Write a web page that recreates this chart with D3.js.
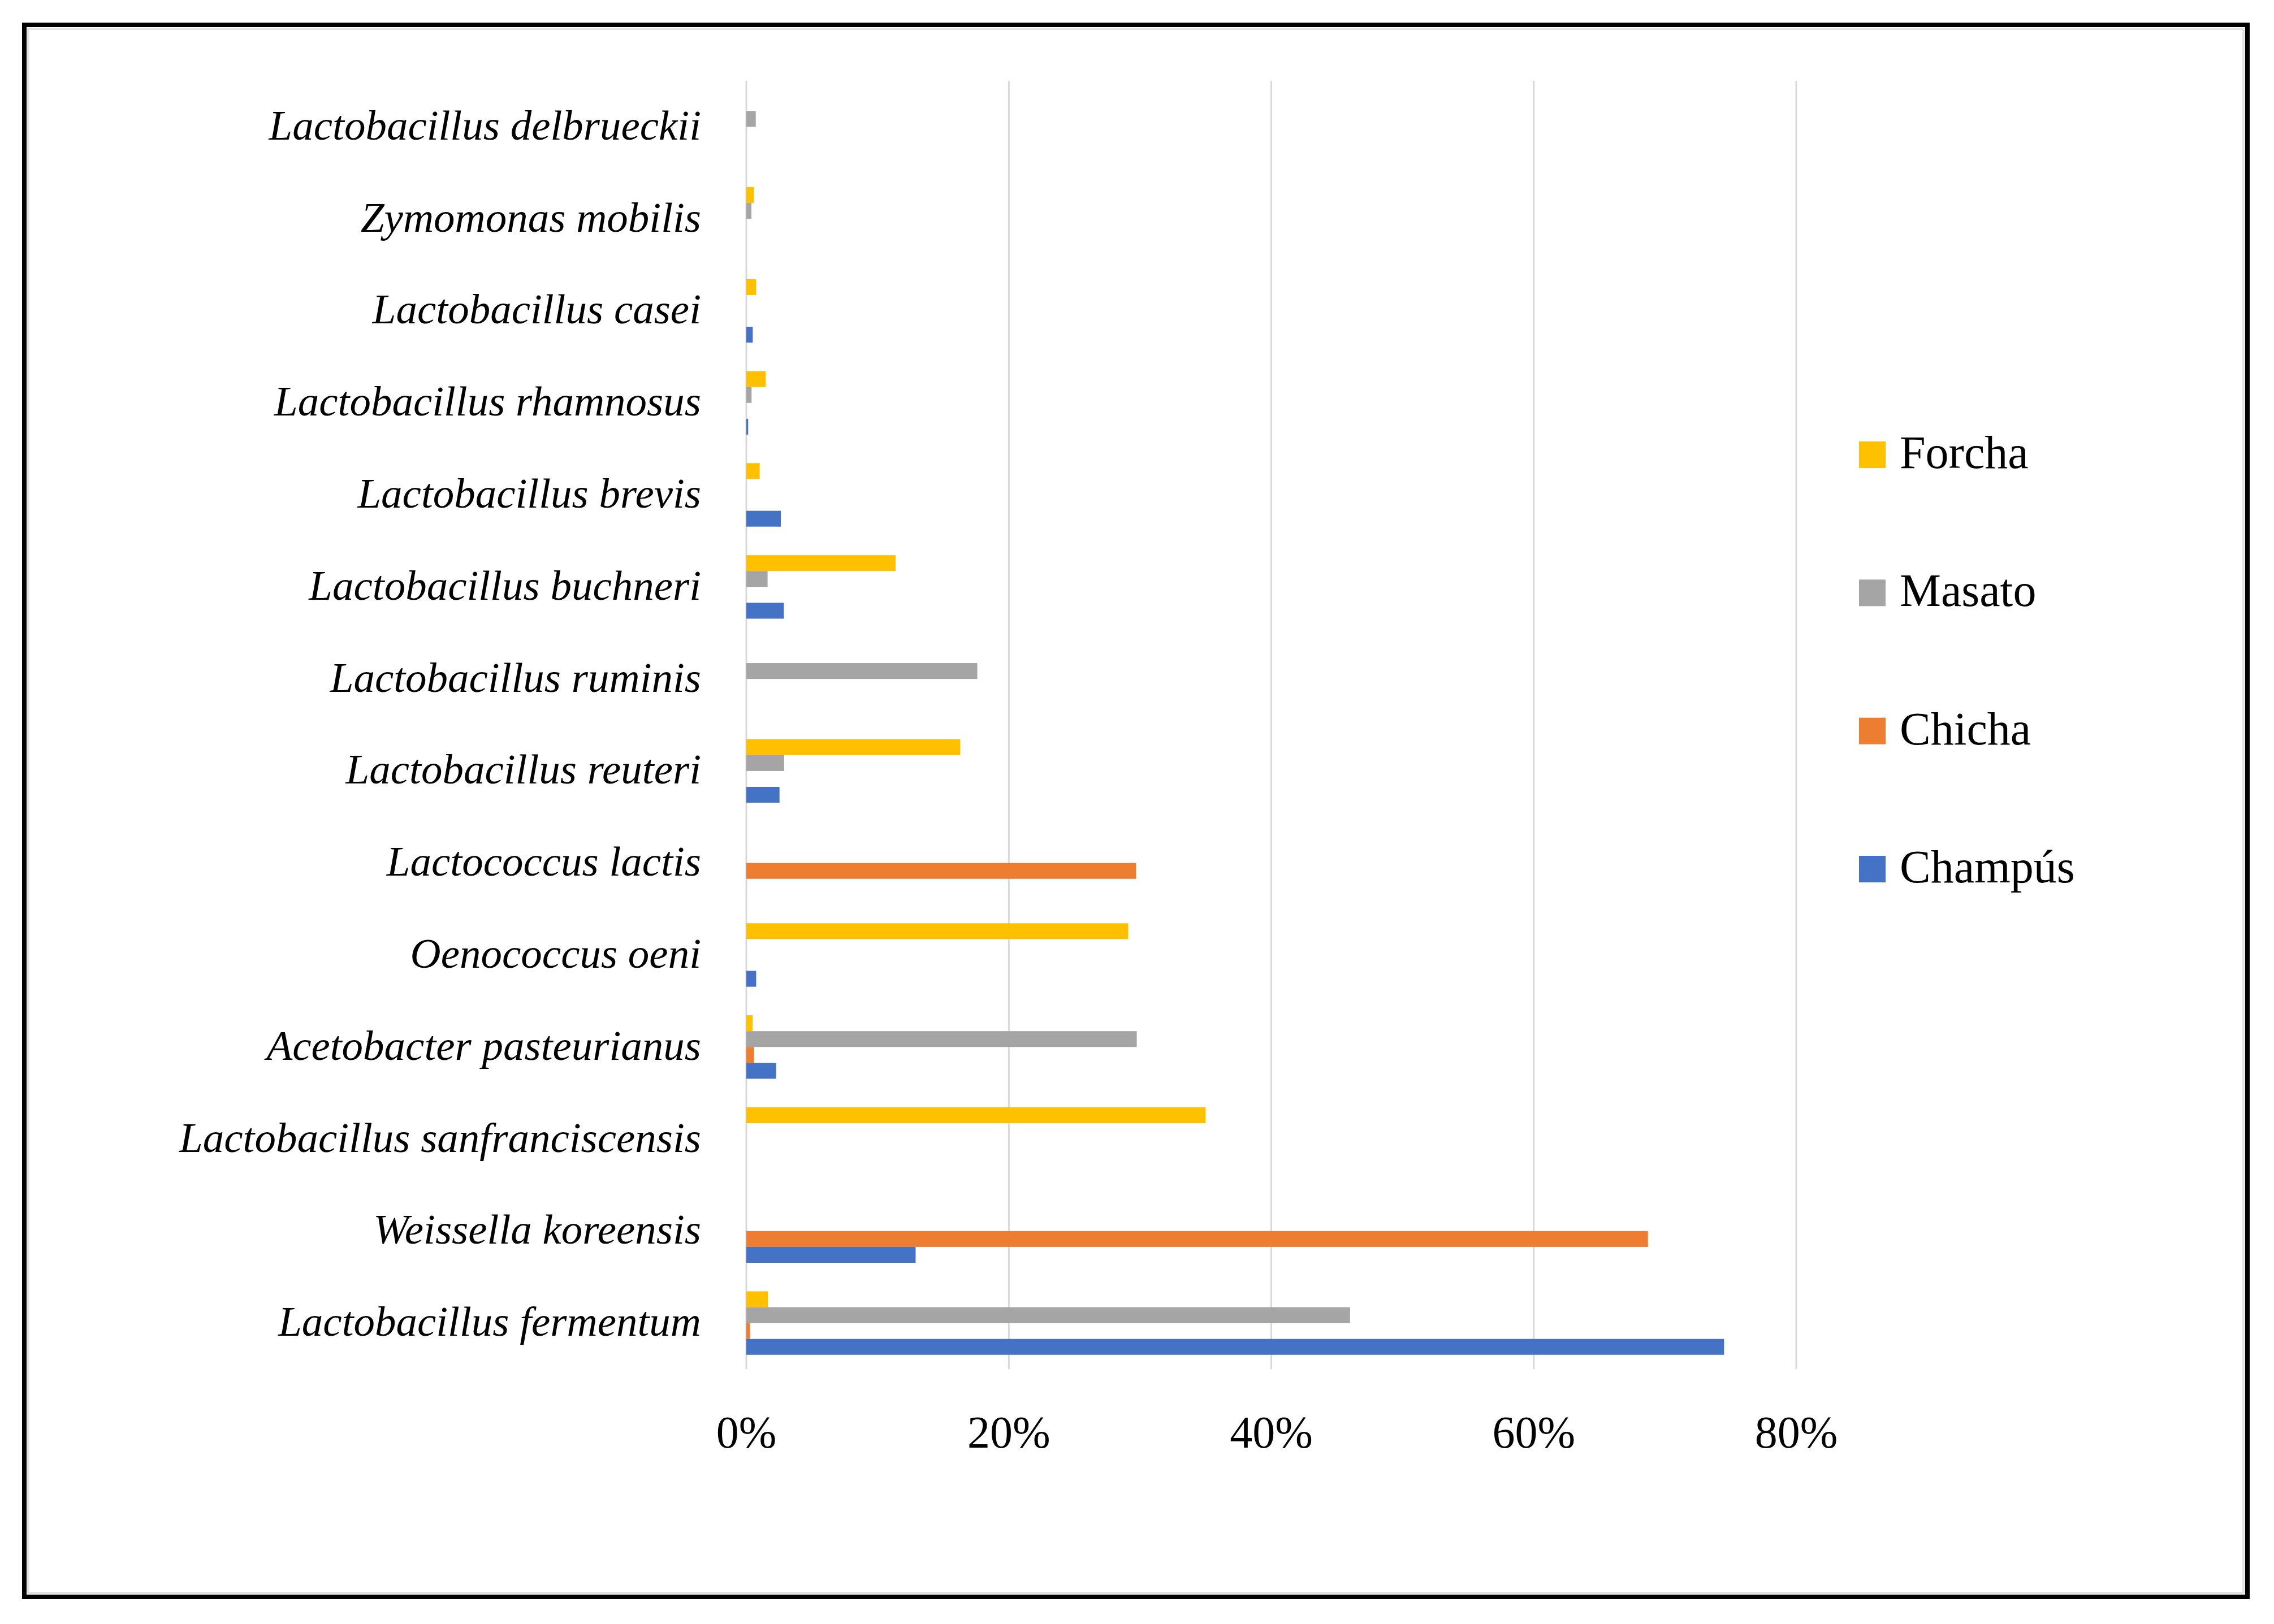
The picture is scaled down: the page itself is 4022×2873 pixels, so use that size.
<!DOCTYPE html>
<html>
<head>
<meta charset="utf-8">
<script src="https://cdn.jsdelivr.net/npm/d3@7"></script>
<style>
  body { margin: 0; background: #fff; }
  svg { display: block; }
  .cat { font-family: "Palatino Linotype", "Book Antiqua", Palatino, "Liberation Serif", serif; font-style: italic; font-size: 75px; fill: #000; }
  .tick-label { font-family: "Palatino Linotype", "Book Antiqua", Palatino, "Liberation Serif", serif; font-size: 80px; fill: #000; }
  .legend-label { font-family: "Palatino Linotype", "Book Antiqua", Palatino, "Liberation Serif", serif; font-size: 82px; fill: #000; }
</style>
</head>
<body>
<svg id="chart" width="4022" height="2873"></svg>
<script>
// species, listed top to bottom as they appear
const species = [
    "Lactobacillus delbrueckii",
    "Zymomonas mobilis",
    "Lactobacillus casei",
    "Lactobacillus rhamnosus",
    "Lactobacillus brevis",
    "Lactobacillus buchneri",
    "Lactobacillus ruminis",
    "Lactobacillus reuteri",
    "Lactococcus lactis",
    "Oenococcus oeni",
    "Acetobacter pasteurianus",
    "Lactobacillus sanfranciscensis",
    "Weissella koreensis",
    "Lactobacillus fermentum"
];

// relative abundance (%) per beverage, same order as species
const forcha  = [0,    0.57, 0.75, 1.48, 1.02, 11.37, 0,    16.3, 0,    29.1, 0.48, 35.0, 0,    1.65];
const masato  = [0.72, 0.39, 0,    0.40, 0,    1.62,  17.6, 2.88, 0,    0,    29.75, 0,   0,    46.0];
const chicha  = [0,    0,    0,    0,    0,    0,     0,    0,    29.7, 0,    0.59, 0,    68.7, 0.28];
const champus = [0,    0,    0.49, 0.14, 2.63, 2.86,  0,    2.53, 0,    0.75, 2.27, 0,    12.9, 74.5];

const seriesNames = ["Forcha", "Masato", "Chicha", "Champús"];
const seriesColors = ["#FFC000", "#A5A5A5", "#ED7D31", "#4472C4"];
const xTicks = [0, 0.2, 0.4, 0.6, 0.8];

const seriesValues = [forcha, masato, chicha, champus];

const svg = d3.select("#chart");

const plot = { left: 1320, right: 3177, top: 143, bottom: 2422 };

const x = d3.scaleLinear().domain([0, 0.8]).range([plot.left, plot.right]);

const y = d3.scaleBand()
    .domain(species)
    .range([plot.top, plot.bottom])
    .paddingInner(0.31)
    .paddingOuter(0.155);

const ySub = d3.scaleBand()
    .domain(seriesNames)
    .range([0, y.bandwidth()]);

// outer frame
svg.append("rect")
    .attr("x", 0).attr("y", 0)
    .attr("width", 4022).attr("height", 2873)
    .attr("fill", "#fff");

svg.append("rect")
    .attr("x", 50).attr("y", 51)
    .attr("width", 3918).attr("height", 2767)
    .attr("fill", "none")
    .attr("stroke", "#e2e2e2")
    .attr("stroke-width", 4);

svg.append("rect")
    .attr("x", 43).attr("y", 44)
    .attr("width", 3932).attr("height", 2781)
    .attr("fill", "none")
    .attr("stroke", "#000")
    .attr("stroke-width", 8);

// vertical gridlines
svg.append("g")
    .selectAll("line")
    .data(xTicks)
    .enter().append("line")
    .attr("x1", d => x(d)).attr("x2", d => x(d))
    .attr("y1", plot.top).attr("y2", plot.bottom)
    .attr("stroke", "#d9d9d9")
    .attr("stroke-width", 3);

// bars
const rows = species.map((s, i) => ({ name: s, values: seriesNames.map((k, j) => ({ key: k, value: seriesValues[j][i] / 100, color: seriesColors[j] })) }));

const group = svg.append("g")
    .selectAll("g")
    .data(rows)
    .enter().append("g")
    .attr("transform", d => "translate(0," + y(d.name) + ")");

group.selectAll("rect")
    .data(d => d.values.filter(v => v.value > 0))
    .enter().append("rect")
    .attr("x", x(0))
    .attr("y", d => ySub(d.key))
    .attr("width", d => x(d.value) - x(0))
    .attr("height", ySub.bandwidth())
    .attr("fill", d => d.color);

// category labels
svg.append("g")
    .selectAll("text")
    .data(species)
    .enter().append("text")
    .attr("class", "cat")
    .attr("x", 1240)
    .attr("y", d => y(d) + y.bandwidth() / 2)
    .attr("dy", "0.3em")
    .attr("text-anchor", "end")
    .text(d => d);

// x tick labels
svg.append("g")
    .selectAll("text")
    .data(xTicks)
    .enter().append("text")
    .attr("class", "tick-label")
    .attr("x", d => x(d))
    .attr("y", 2561)
    .attr("text-anchor", "middle")
    .text(d3.format(".0%"));

// legend
const legendY = d3.scalePoint().domain(seriesNames).range([804, 1537]);

const legend = svg.append("g")
    .selectAll("g")
    .data(seriesNames)
    .enter().append("g")
    .attr("transform", d => "translate(3288," + legendY(d) + ")");

legend.append("rect")
    .attr("x", 0).attr("y", -23)
    .attr("width", 47).attr("height", 47)
    .attr("fill", (d, i) => seriesColors[i]);

legend.append("text")
    .attr("class", "legend-label")
    .attr("x", 72)
    .attr("y", 24)
    .text(d => d);
</script>
</body>
</html>
